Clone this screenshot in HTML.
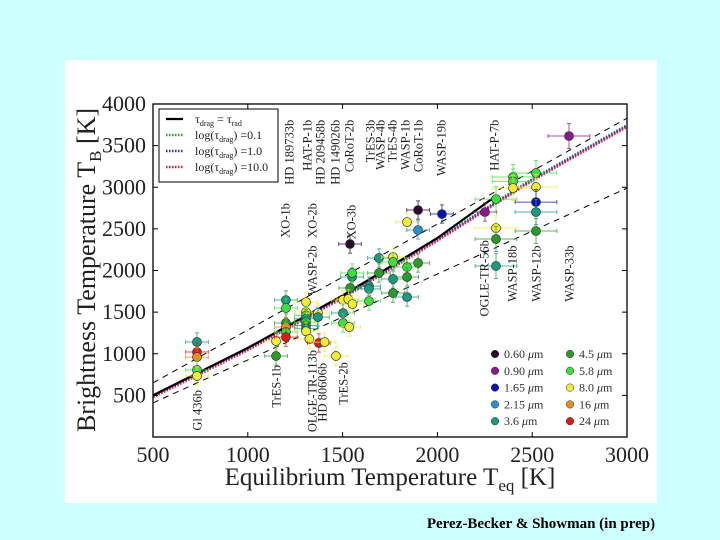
<!DOCTYPE html>
<html><head><meta charset="utf-8"><style>
html,body{margin:0;padding:0;background:#ccffff;}
svg{display:block;font-family:"Liberation Serif",serif;}
</style></head><body>
<svg id="chart" width="720" height="540" xmlns="http://www.w3.org/2000/svg">
<rect x="0" y="0" width="720" height="540" fill="#ccffff"/>
<rect x="65" y="60" width="592" height="443" fill="#ffffff"/>
<g id="plot"></g>
<text x="541" y="528" font-size="15" font-weight="bold" text-anchor="middle" fill="#000">Perez-Becker &amp; Showman (in prep)</text>
</svg>
<script>
const xTicks=[500,1000,1500,2000,2500,3000];
const yTicks=[500,1000,1500,2000,2500,3000,3500,4000];
const modelTeq=[500,1000,1500,2000,2300];
const modelTB=[500,1070,1700,2390,2880];
const dotTeq=[500,1000,1500,2000,2500,3000];
const dotTB=[500,1065,1690,2380,3100,3748];
const upperTeq=[500,3000];const upperTB=[650,3830];
const lowerTeq=[500,3000];const lowerTB=[410,2990];
const ptTeq=[732,732,732,732,732,1149,1149,1201,1201,1201,1201,1201,1201,1307,1307,1307,1307,1307,1307,1307,1307,1370,1370,1325,1375,1405,1465,1502,1502,1502,1535,1539,1550,1550,1540,1530,1552,1639,1639,1639,1692,1692,1766,1766,1766,1766,1840,1840,1840,1840,1898,1898,1898,2024,2251,2309,2309,2309,2309,2399,2399,2399,2520,2520,2520,2520,2520,2694];
const ptTB=[1141,1021,960,805,733,1153,973,1645,1549,1369,1320,1261,1200,1621,1501,1460,1420,1380,1340,1300,1270,1489,1440,1177,1129,1140,973,1645,1489,1369,1321,2318,1922,1970,1790,1657,1597,1813,1780,1633,2150,1970,2162,2102,1898,1729,2042,1922,1681,2582,2090,2726,2486,2678,2702,2858,2510,2378,2054,3123,3070,2990,3171,3003,2822,2702,2474,3615];
const ptBand=[4,9,8,6,7,7,5,4,6,5,8,6,9,7,7,6,4,6,5,4,7,7,4,7,9,7,7,7,4,6,7,0,4,6,5,7,7,4,4,6,4,5,7,6,4,5,6,5,4,7,5,0,3,2,1,6,7,5,4,6,6,7,6,7,2,4,5,1];
const bandColors=["#2b0b2e","#8a1a8a","#0a14b4","#2a90c8","#1a9a80","#2a9a2a","#3ce03c","#f0ec3a","#ea8c22","#e01818"];
const bandLabels=["0.60","0.90","1.65","2.15","3.6","4.5","5.8","8.0","16","24"];
const topLabels=["XO-1b","HD 189733b","WASP-2b","XO-2b","HAT-P-1b","HD 209458b","HD 149026b","CoRoT-2b","XO-3b","TrES-3b","WASP-4b","TrES-4b","WASP-1b","CoRoT-1b","WASP-19b","HAT-P-7b","OGLE-TR-56b","WASP-18b","WASP-12b","WASP-33b","Gl 436b","TrES-1b","OLGE-TR-113b","HD 80606b","TrES-2b"];
const labelTeq=[1196,1217,1339,1339,1312,1381,1460,1534,1544,1644,1697,1760,1829,1898,2019,2298,2246,2393,2520,2694,732,1149,1339,1391,1502];
const labelTopTB=[2810,3810,2300,2810,3810,3810,3810,3810,2790,3810,3810,3810,3810,3810,3810,3810,2365,2300,2300,2300,565,865,1045,890,900];
const NS="http://www.w3.org/2000/svg";
const L=153,R=627,T=104,B=437;
const sx=v=>L+(v-500)/2500*(R-L);
const sy=v=>B-v/4000*(B-T);
const g=document.getElementById('plot');
function mk(tag,attrs,parent){const e=document.createElementNS(NS,tag);for(const k in attrs)e.setAttribute(k,attrs[k]);(parent||g).appendChild(e);return e;}
function poly(xs,ys){return xs.map((x,i)=>sx(x).toFixed(1)+','+sy(ys[i]).toFixed(1)).join(' ');}
const defs=mk('defs',{});const cp=mk('clipPath',{id:'clip'},defs);mk('rect',{x:L,y:T,width:R-L,height:B-T},cp);
let e=mk('polyline',{points:poly(upperTeq,upperTB),fill:'none',stroke:'#000','stroke-width':1,'stroke-dasharray':'6,5','clip-path':'url(#clip)'});


e=mk('polyline',{points:poly(lowerTeq,lowerTB),fill:'none',stroke:'#000','stroke-width':1,'stroke-dasharray':'6,5','clip-path':'url(#clip)'});


const dc=['#2ca02c','#2a2ac0','#e0206a'];const dn=['log-drag-0.1-line','log-drag-1.0-line','log-drag-10.0-line'];
for(let i=0;i<3;i++){e=mk('polyline',{points:poly(dotTeq,dotTB.map(v=>v-i*12)),fill:'none',stroke:dc[i],'stroke-width':2.4,'stroke-dasharray':'1.5,1.5','clip-path':'url(#clip)'});

}
e=mk('polyline',{points:poly(modelTeq,modelTB),fill:'none',stroke:'#000','stroke-width':2.2});


for(let i=0;i<ptTeq.length;i++){
 const c=bandColors[ptBand[i]];const x=sx(ptTeq[i]),y=sy(ptTB[i]);
 const ex=(ptTeq[i]>2300?110:60)/2500*(R-L),ey=(ptTeq[i]>2300?150:110)/4000*(B-T);
 const eg=mk('g',{stroke:c,'stroke-width':1,opacity:0.75});
 
 
 mk('line',{x1:x-ex,y1:y,x2:x+ex,y2:y},eg);mk('line',{x1:x,y1:y-ey,x2:x,y2:y+ey},eg);
 mk('line',{x1:x-ex,y1:y-2,x2:x-ex,y2:y+2},eg);mk('line',{x1:x+ex,y1:y-2,x2:x+ex,y2:y+2},eg);
 mk('line',{x1:x-2,y1:y-ey,x2:x+2,y2:y-ey},eg);mk('line',{x1:x-2,y1:y+ey,x2:x+2,y2:y+ey},eg);
 e=mk('circle',{cx:x,cy:y,r:4.5,fill:c,stroke:'#333','stroke-width':0.7});
 
 
}
for(let i=0;i<topLabels.length;i++){
 const x=sx(labelTeq[i]),y=sy(labelTopTB[i]);
 e=mk('text',{x:0,y:0,transform:`translate(${(x+4.5).toFixed(1)},${y.toFixed(1)}) rotate(-90)`,'font-size':12.5,'text-anchor':'end',fill:'#222'});
 e.textContent=topLabels[i];
 
 
}
e=mk('rect',{x:L,y:T,width:R-L,height:B-T,fill:'none',stroke:'#000','stroke-width':1.3});


for(const t of xTicks){const x=sx(t);
 mk('line',{x1:x,y1:B,x2:x,y2:B-5,stroke:'#000'});mk('line',{x1:x,y1:T,x2:x,y2:T+5,stroke:'#000'});
 e=mk('text',{x:x,y:462,'font-size':22,'text-anchor':'middle',fill:'#222'});e.textContent=t;
 
 }
for(const t of yTicks){const y=sy(t);
 mk('line',{x1:L,y1:y,x2:L+5,y2:y,stroke:'#000'});mk('line',{x1:R,y1:y,x2:R-5,y2:y,stroke:'#000'});
 e=mk('text',{x:146,y:y+7,'font-size':22,'text-anchor':'end',fill:'#222'});e.textContent=t;
 
 }
e=mk('text',{x:390,y:485,'font-size':25,'text-anchor':'middle',fill:'#222'});
e.innerHTML='Equilibrium Temperature T<tspan font-size="17" dy="6">eq</tspan><tspan dy="-6"> [K]</tspan>';


e=mk('text',{x:0,y:0,transform:'translate(95,270) rotate(-90)','font-size':26,'text-anchor':'middle',fill:'#222'});
e.innerHTML='Brightness Temperature T<tspan font-size="17" dy="6">B</tspan><tspan dy="-6"> [K]</tspan>';


const lg=mk('g',{});


mk('rect',{x:159,y:109,width:119,height:73,fill:'#fff',stroke:'#000','stroke-width':1},lg);
const lt=['τ<tspan font-size="8" dy="3">drag</tspan><tspan dy="-3"> = τ</tspan><tspan font-size="8" dy="3">rad</tspan>','log(τ<tspan font-size="8" dy="3">drag</tspan><tspan dy="-3">) =0.1</tspan>','log(τ<tspan font-size="8" dy="3">drag</tspan><tspan dy="-3">) =1.0</tspan>','log(τ<tspan font-size="8" dy="3">drag</tspan><tspan dy="-3">) =10.0</tspan>'];
const lc=['#000','#2ca02c','#2a2ac0','#e02020'];
for(let i=0;i<4;i++){const y=119+i*16;
 e=mk('line',{x1:166,y1:y,x2:183,y2:y,stroke:lc[i],'stroke-width':i?2.4:2.2,'stroke-dasharray':i?'1.5,1.5':'none'},lg);
 
 
 e=mk('text',{x:195,y:y+4,'font-size':12,fill:'#222'},lg);e.innerHTML=lt[i];
 
 }
for(let i=0;i<10;i++){const col=i<5?0:1,row=i%5;const x=col?570:495,y=354+row*16.8;
 e=mk('circle',{cx:x,cy:y,r:3.8,fill:bandColors[i],stroke:'#333','stroke-width':0.5});
 
 
 e=mk('text',{x:x+9,y:y+4,'font-size':12,fill:'#333'});e.innerHTML=bandLabels[i]+' <tspan font-style="italic">μ</tspan>m';
 
 }
</script>
</body></html>
